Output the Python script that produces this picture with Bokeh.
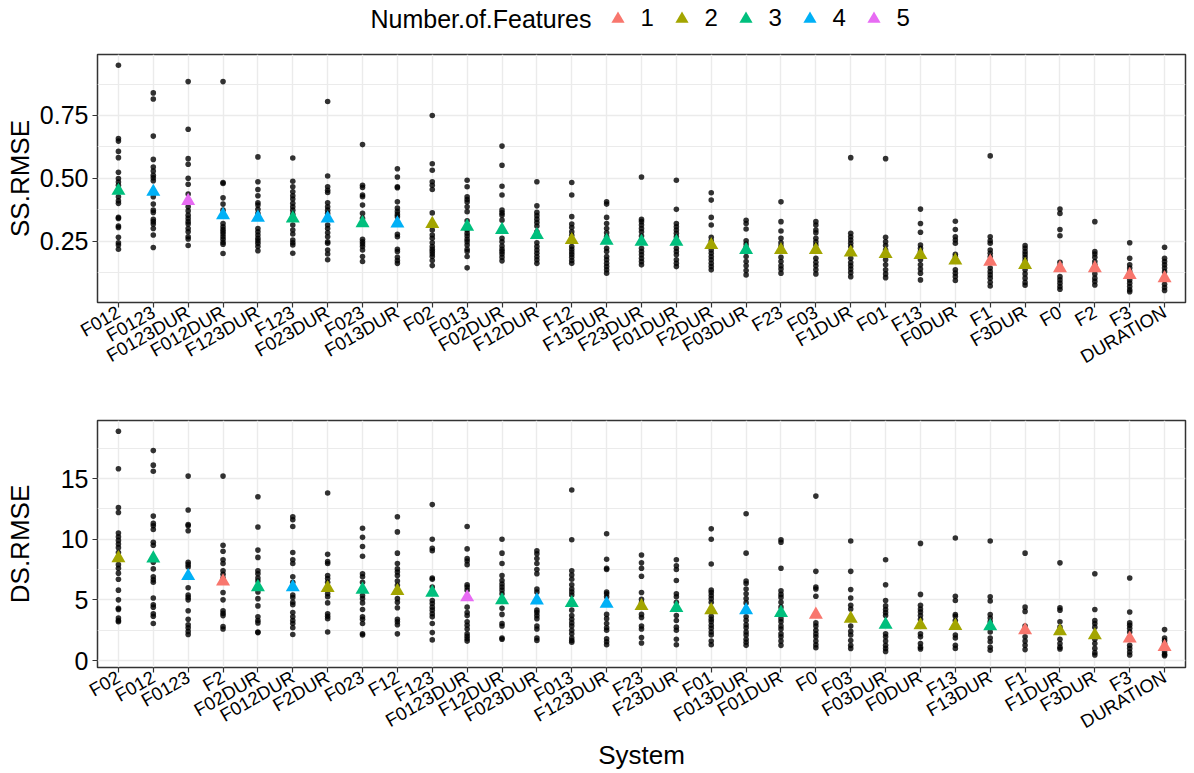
import math
from bokeh.plotting import figure
from bokeh.models import (ColumnDataSource, FactorRange, Range1d, FixedTicker, CDSView,
                          GroupFilter, NumeralTickFormatter, Legend, LegendItem, Label)
from bokeh.layouts import column
from bokeh.embed import file_html
from bokeh.resources import INLINE

# ---------------------------------------------------------------- top panel: SS.RMSE
ss_systems = ["F012", "F0123", "F0123DUR", "F012DUR", "F123DUR", "F123", "F023DUR", "F023",
              "F013DUR", "F02", "F013", "F02DUR", "F12DUR", "F12", "F13DUR", "F23DUR",
              "F01DUR", "F2DUR", "F03DUR", "F23", "F03", "F1DUR", "F01", "F13", "F0DUR",
              "F1", "F3DUR", "F0", "F2", "F3", "DURATION"]
ss_features = [3, 4, 5, 4, 4, 3, 4, 3, 4, 2, 3, 3, 3, 2, 3, 3, 3, 2, 3, 2, 2, 2, 2, 2, 2,
               1, 2, 1, 1, 1, 1]
ss_means = [0.450, 0.446, 0.410, 0.353, 0.343, 0.340, 0.340, 0.321, 0.320, 0.318, 0.307,
            0.294, 0.274, 0.254, 0.251, 0.247, 0.247, 0.234, 0.214, 0.214, 0.214, 0.204,
            0.198, 0.194, 0.172, 0.168, 0.155, 0.142, 0.142, 0.115, 0.102]

ss_F012 = [0.950, 0.658, 0.648, 0.607, 0.582, 0.524, 0.499, 0.485, 0.472, 0.426, 0.410, 0.400,
           0.344, 0.340, 0.310, 0.304, 0.265, 0.243, 0.234, 0.217]
ss_F0123 = [0.840, 0.816, 0.668, 0.575, 0.545, 0.529, 0.512, 0.502, 0.490, 0.426, 0.397, 0.373,
            0.364, 0.336, 0.327, 0.318, 0.300, 0.274, 0.224]
ss_F0123DUR = [0.885, 0.695, 0.578, 0.556, 0.500, 0.476, 0.437, 0.386, 0.370, 0.353, 0.340,
               0.327, 0.318, 0.300, 0.287, 0.267, 0.258, 0.232]
ss_F012DUR = [0.885, 0.483, 0.479, 0.422, 0.397, 0.373, 0.320, 0.307, 0.296, 0.287, 0.278,
              0.267, 0.257, 0.245, 0.237, 0.200]
ss_F123DUR = [0.585, 0.486, 0.455, 0.430, 0.402, 0.393, 0.376, 0.360, 0.300, 0.287, 0.274,
              0.261, 0.251, 0.241, 0.228, 0.211]
ss_F123 = [0.581, 0.488, 0.466, 0.446, 0.430, 0.417, 0.400, 0.386, 0.373, 0.357, 0.314, 0.294,
           0.278, 0.254, 0.243, 0.234, 0.201]
ss_F023DUR = [0.806, 0.509, 0.466, 0.452, 0.443, 0.402, 0.386, 0.373, 0.360, 0.314, 0.300,
              0.283, 0.267, 0.247, 0.241, 0.214, 0.198, 0.175]
ss_F023 = [0.634, 0.472, 0.463, 0.433, 0.426, 0.393, 0.360, 0.340, 0.257, 0.247, 0.238, 0.228,
           0.214, 0.188, 0.168]
ss_F013DUR = [0.538, 0.505, 0.466, 0.462, 0.406, 0.381, 0.368, 0.356, 0.347, 0.277, 0.267,
              0.217, 0.208, 0.185, 0.172, 0.161]
ss_F02 = [0.750, 0.558, 0.532, 0.486, 0.472, 0.455, 0.362, 0.294, 0.274, 0.261, 0.243, 0.228,
          0.217, 0.208, 0.198, 0.188, 0.172, 0.152]
ss_F013 = [0.492, 0.466, 0.426, 0.415, 0.405, 0.386, 0.367, 0.331, 0.294, 0.281, 0.270, 0.257,
           0.247, 0.234, 0.217, 0.208, 0.188, 0.143]
ss_F02DUR = [0.628, 0.552, 0.468, 0.433, 0.373, 0.362, 0.353, 0.333, 0.261, 0.247, 0.230,
             0.217, 0.208, 0.198, 0.185, 0.171]
ss_F12DUR = [0.486, 0.390, 0.364, 0.351, 0.337, 0.324, 0.310, 0.287, 0.243, 0.228, 0.214,
             0.201, 0.188, 0.175, 0.161]
ss_F12 = [0.483, 0.433, 0.347, 0.318, 0.304, 0.287, 0.273, 0.228, 0.217, 0.206, 0.196, 0.185,
          0.172, 0.161]
ss_F13DUR = [0.406, 0.397, 0.344, 0.320, 0.300, 0.283, 0.267, 0.221, 0.208, 0.188, 0.175,
             0.161, 0.148, 0.135, 0.122]
ss_F23DUR = [0.505, 0.336, 0.327, 0.314, 0.300, 0.287, 0.270, 0.221, 0.208, 0.195, 0.181,
             0.168, 0.155]
ss_F01DUR = [0.492, 0.376, 0.320, 0.307, 0.294, 0.281, 0.267, 0.221, 0.208, 0.195, 0.175,
             0.161, 0.148]
ss_F2DUR = [0.442, 0.413, 0.344, 0.314, 0.265, 0.251, 0.214, 0.201, 0.188, 0.175, 0.161,
            0.148, 0.135]
ss_F03DUR = [0.333, 0.320, 0.298, 0.251, 0.238, 0.225, 0.188, 0.168, 0.151, 0.132, 0.115]
ss_F23 = [0.406, 0.327, 0.290, 0.261, 0.243, 0.230, 0.185, 0.168, 0.151, 0.138, 0.122]
ss_F03 = [0.327, 0.314, 0.294, 0.283, 0.261, 0.247, 0.234, 0.181, 0.165, 0.151, 0.135, 0.119]
ss_F1DUR = [0.582, 0.281, 0.267, 0.254, 0.241, 0.228, 0.181, 0.164, 0.151, 0.138, 0.124, 0.108]
ss_F01 = [0.578, 0.265, 0.247, 0.232, 0.214, 0.175, 0.155, 0.135, 0.119, 0.104]
ss_F13 = [0.377, 0.320, 0.285, 0.234, 0.221, 0.208, 0.175, 0.155, 0.138, 0.122, 0.095]
ss_F0DUR = [0.329, 0.296, 0.267, 0.254, 0.241, 0.197, 0.188, 0.135, 0.122, 0.108, 0.093]
ss_F1 = [0.589, 0.267, 0.251, 0.241, 0.214, 0.201, 0.188, 0.142, 0.128, 0.115, 0.102, 0.086,
         0.071]
ss_F3DUR = [0.232, 0.221, 0.208, 0.197, 0.185, 0.172, 0.135, 0.119, 0.102, 0.085, 0.074]
ss_F0 = [0.377, 0.360, 0.296, 0.271, 0.165, 0.151, 0.108, 0.095, 0.082, 0.069, 0.058]
ss_F2 = [0.327, 0.208, 0.198, 0.185, 0.168, 0.155, 0.119, 0.102, 0.089, 0.075]
ss_F3 = [0.243, 0.181, 0.155, 0.142, 0.128, 0.095, 0.082, 0.069, 0.056, 0.048]
ss_DURATION = [0.225, 0.181, 0.168, 0.155, 0.142, 0.128, 0.095, 0.078, 0.065, 0.053]

ss_points = [ss_F012, ss_F0123, ss_F0123DUR, ss_F012DUR, ss_F123DUR, ss_F123, ss_F023DUR,
             ss_F023, ss_F013DUR, ss_F02, ss_F013, ss_F02DUR, ss_F12DUR, ss_F12, ss_F13DUR,
             ss_F23DUR, ss_F01DUR, ss_F2DUR, ss_F03DUR, ss_F23, ss_F03, ss_F1DUR, ss_F01,
             ss_F13, ss_F0DUR, ss_F1, ss_F3DUR, ss_F0, ss_F2, ss_F3, ss_DURATION]

# ---------------------------------------------------------------- bottom panel: DS.RMSE
ds_systems = ["F02", "F012", "F0123", "F2", "F02DUR", "F012DUR", "F2DUR", "F023", "F12",
              "F123", "F0123DUR", "F12DUR", "F023DUR", "F013", "F123DUR", "F23", "F23DUR",
              "F01", "F013DUR", "F01DUR", "F0", "F03", "F03DUR", "F0DUR", "F13", "F13DUR",
              "F1", "F1DUR", "F3DUR", "F3", "DURATION"]
ds_features = [2, 3, 4, 1, 3, 4, 2, 3, 2, 3, 5, 3, 4, 3, 4, 2, 3, 2, 4, 3, 1, 2, 3, 2, 2, 3,
               1, 2, 2, 1, 1]
ds_means = [8.44, 8.42, 6.96, 6.52, 6.05, 6.04, 5.97, 5.84, 5.73, 5.59, 5.21, 4.97, 4.96, 4.74,
            4.68, 4.49, 4.33, 4.15, 4.14, 3.92, 3.78, 3.45, 2.96, 2.90, 2.85, 2.82, 2.49, 2.41,
            2.08, 1.81, 1.12]

ds_F02 = [18.9, 15.8, 12.6, 12.2, 10.5, 10.2, 9.9, 9.6, 9.3, 8.9, 7.9, 7.6, 7.2, 6.7, 5.8, 5.0,
          4.3, 4.2, 3.5, 3.3, 3.2]
ds_F012 = [17.3, 16.1, 15.6, 11.9, 11.3, 11.1, 10.8, 9.75, 9.5, 8.1, 7.55, 6.9, 6.65, 6.45,
           5.15, 4.6, 4.4, 3.85, 3.65, 3.05]
ds_F0123 = [15.2, 12.4, 11.2, 11.1, 10.7, 8.1, 7.9, 7.7, 6.0, 5.4, 5.2, 5.0, 4.1, 3.4, 2.95,
            2.7, 2.4, 2.15]
ds_F2 = [15.2, 9.5, 9.0, 8.3, 8.0, 7.4, 7.1, 6.8, 5.6, 5.0, 4.1, 3.9, 3.7, 2.8, 2.6]
ds_F02DUR = [13.5, 11.0, 9.1, 8.5, 7.4, 7.15, 6.8, 6.55, 5.65, 5.1, 4.5, 3.6, 3.3, 3.1, 2.35,
             2.3]
ds_F012DUR = [11.85, 11.6, 11.05, 8.9, 8.3, 8.0, 6.9, 6.45, 5.4, 5.2, 4.8, 4.6, 3.95, 3.6, 3.3,
              3.05, 2.7, 2.15]
ds_F2DUR = [13.8, 8.75, 8.15, 8.0, 7.0, 6.75, 6.45, 5.5, 5.25, 4.75, 3.85, 3.65, 3.45, 2.35]
ds_F023 = [10.9, 10.15, 9.4, 8.6, 7.15, 6.9, 6.45, 5.35, 5.1, 4.75, 4.2, 3.6, 3.4, 3.05, 2.2,
           2.1]
ds_F12 = [11.85, 10.6, 8.85, 8.0, 7.55, 7.3, 7.0, 6.55, 6.2, 5.1, 4.8, 4.35, 3.4, 3.2, 2.95,
          2.2]
ds_F123 = [12.85, 10.0, 9.25, 9.05, 6.8, 6.7, 6.05, 4.95, 4.7, 4.4, 4.15, 3.85, 3.6, 3.05, 2.3,
           1.7]
ds_F0123DUR = [11.05, 9.2, 8.4, 8.2, 7.9, 6.25, 6.05, 5.8, 4.4, 3.95, 3.7, 3.2, 2.9, 2.6, 2.2,
               2.0, 1.8, 1.6]
ds_F12DUR = [10.0, 8.85, 8.0, 7.0, 6.6, 6.3, 6.05, 5.8, 5.5, 4.3, 3.8, 3.05, 2.85, 1.85, 1.75]
ds_F023DUR = [9.05, 8.8, 8.4, 8.0, 7.5, 7.15, 5.9, 5.65, 4.15, 3.95, 3.7, 3.45, 2.85, 2.6, 1.85,
              1.65]
ds_F013 = [14.05, 9.95, 7.4, 7.05, 6.7, 6.25, 5.9, 5.65, 5.4, 4.15, 3.7, 3.4, 3.1, 2.85, 2.5,
           2.2, 1.85, 1.65, 1.5]
ds_F123DUR = [10.45, 8.35, 7.6, 7.5, 5.65, 5.5, 5.25, 3.8, 3.45, 3.05, 2.7, 2.5, 1.8, 1.55, 1.3]
ds_F23 = [8.7, 8.05, 7.6, 6.95, 5.6, 5.05, 4.75, 3.8, 3.55, 2.85, 2.6, 1.9, 1.45]
ds_F23DUR = [8.3, 7.8, 7.5, 6.6, 5.5, 5.25, 4.8, 3.7, 3.3, 2.75, 2.5, 1.75, 1.3]
ds_F01 = [10.85, 10.0, 7.95, 5.8, 5.6, 5.35, 5.1, 4.8, 3.65, 3.4, 3.2, 2.9, 2.65, 2.35, 2.1,
          1.6, 1.3]
ds_F013DUR = [12.1, 8.85, 6.55, 6.35, 5.9, 5.5, 5.1, 4.75, 3.6, 3.3, 2.95, 2.7, 2.35, 2.1, 1.75,
              1.5, 1.25]
ds_F01DUR = [9.95, 9.75, 7.6, 5.75, 5.45, 5.2, 4.8, 4.4, 3.45, 3.2, 2.85, 2.6, 2.2, 1.95, 1.6,
             1.25]
ds_F0 = [13.55, 7.35, 6.05, 5.9, 5.3, 3.1, 2.85, 2.5, 2.2, 1.95, 1.6, 1.3, 1.05]
ds_F03 = [9.85, 7.35, 5.85, 5.15, 4.55, 4.25, 2.85, 2.4, 2.1, 1.65, 1.25, 1.0]
ds_F03DUR = [8.3, 6.25, 4.95, 4.5, 4.2, 3.95, 3.7, 2.2, 1.95, 1.6, 1.25, 1.0, 0.75]
ds_F0DUR = [9.65, 5.45, 4.55, 4.25, 4.0, 3.7, 3.4, 2.2, 1.95, 1.4, 1.1, 0.95]
ds_F13 = [10.1, 5.3, 4.95, 3.8, 3.65, 3.3, 2.1, 1.85, 1.25, 1.0]
ds_F13DUR = [9.85, 5.25, 4.9, 3.8, 3.5, 3.2, 2.35, 1.85, 1.55, 1.1, 0.85]
ds_F1 = [8.85, 4.4, 4.05, 2.85, 2.6, 1.95, 1.6, 1.25, 0.9]
ds_F1DUR = [8.05, 4.35, 4.15, 3.2, 2.75, 1.75, 1.4, 1.1, 0.95]
ds_F3DUR = [7.15, 4.2, 3.3, 3.05, 2.75, 1.75, 1.4, 1.0, 0.65, 0.45]
ds_F3 = [6.8, 4.0, 3.1, 2.9, 2.65, 2.35, 1.25, 1.0, 0.7, 0.45]
ds_DURATION = [2.55, 1.85, 1.65, 1.4, 1.0, 0.7, 0.5, 0.4]

ds_points = [ds_F02, ds_F012, ds_F0123, ds_F2, ds_F02DUR, ds_F012DUR, ds_F2DUR, ds_F023, ds_F12,
             ds_F123, ds_F0123DUR, ds_F12DUR, ds_F023DUR, ds_F013, ds_F123DUR, ds_F23,
             ds_F23DUR, ds_F01, ds_F013DUR, ds_F01DUR, ds_F0, ds_F03, ds_F03DUR, ds_F0DUR,
             ds_F13, ds_F13DUR, ds_F1, ds_F1DUR, ds_F3DUR, ds_F3, ds_DURATION]

feature_levels = ["1", "2", "3", "4", "5"]
legend_title = "Number.of.Features"

# ---------------------------------------------------------------- styling
FONT = "Liberation Sans"
PALETTE = ["#F8766D", "#A3A500", "#00BF7D", "#00B0F6", "#E76BF3"]
W = 1194
BORDER_LEFT = 97
BORDER_RIGHT = 9
GRID = "#EBEBEB"
DARK = "#333333"
LEG_H = 40


def mean_renderers(p, systems, means, features):
    msrc = ColumnDataSource(dict(system=systems, mean=means,
                                 nfeat=[str(f) for f in features]))
    rends = {}
    for lvl, col in zip(feature_levels, PALETTE):
        view = CDSView(filter=GroupFilter(column_name="nfeat", group=lvl))
        rends[lvl] = p.scatter(x="system", y="mean", source=msrc, view=view,
                               marker="triangle", size=14, fill_color=col, line_color=None)
    return rends


def make_panel(systems, points, means, features, y_lo, y_hi, ticks, minor, ylabel,
               height, b_top, b_bottom, ylabel_standoff, fmt=None, xlabel=None):
    n = len(systems)
    p = figure(width=W, height=height, output_backend="svg", toolbar_location=None,
               x_range=FactorRange(factors=systems, range_padding=0.2 / n,
                                   range_padding_units="percent"),
               y_range=Range1d(y_lo, y_hi),
               min_border_left=BORDER_LEFT, min_border_right=BORDER_RIGHT,
               min_border_top=b_top, min_border_bottom=b_bottom)
    p.background_fill_color = "white"
    p.border_fill_color = "white"
    p.outline_line_color = DARK
    p.outline_line_width = 1.5

    xs, ys = [], []
    for s, vals in zip(systems, points):
        xs.extend([s] * len(vals))
        ys.extend(vals)
    pts = ColumnDataSource(dict(system=xs, value=ys))
    p.scatter(x="system", y="value", source=pts, size=5.6, fill_color="black",
              fill_alpha=0.8, line_color=None)

    mean_renderers(p, systems, means, features)

    p.yaxis.ticker = FixedTicker(ticks=ticks, minor_ticks=minor)
    if fmt is not None:
        p.yaxis.formatter = NumeralTickFormatter(format=fmt)

    p.xgrid.grid_line_color = GRID
    p.xgrid.grid_line_width = 1.4
    p.ygrid.grid_line_color = GRID
    p.ygrid.grid_line_width = 1.4
    p.ygrid.minor_grid_line_color = GRID
    p.ygrid.minor_grid_line_width = 1.0

    for ax in (p.xaxis[0], p.yaxis[0]):
        ax.axis_line_color = None
        ax.major_tick_line_color = DARK
        ax.major_tick_line_width = 1.2
        ax.major_tick_in = 0
        ax.major_tick_out = 5
        ax.minor_tick_line_color = None
        ax.major_label_text_font = FONT
        ax.major_label_text_color = "black"
        ax.axis_label_text_font = FONT
        ax.axis_label_text_font_style = "normal"
        ax.axis_label_text_color = "black"
        ax.axis_label_text_font_size = "26px"

    p.yaxis.major_label_text_font_size = "25px"
    p.yaxis.major_label_standoff = 4
    p.yaxis.axis_label = ylabel
    p.yaxis.axis_label_standoff = ylabel_standoff

    p.xaxis.major_label_text_font_size = "18.5px"
    p.xaxis.major_label_orientation = math.pi / 6
    p.xaxis.major_label_standoff = 3
    if xlabel:
        p.xaxis.axis_label = xlabel
        p.xaxis.axis_label_standoff = -4
    return p


# page pixels: legend strip 0..40, top panel frame 54..302, bottom panel frame 420..667
p1 = make_panel(ss_systems, ss_points, ss_means, ss_features, 0.005, 0.993,
                [0.25, 0.50, 0.75], [0.125, 0.375, 0.625, 0.875], "SS.RMSE",
                height=370, b_top=14, b_bottom=108, ylabel_standoff=2, fmt="0.00")
p2 = make_panel(ds_systems, ds_points, ds_means, ds_features, -0.575, 19.78,
                [0, 5, 10, 15], [2.5, 7.5, 12.5, 17.5], "DS.RMSE",
                height=363, b_top=10, b_bottom=106, ylabel_standoff=23, xlabel="System")

# ---------------------------------------------------------------- legend strip
# same categorical scale as the top panel; its y window holds no means, so only the
# legend keys of these renderers are visible.  The column aligns its frame with the
# panels' frames (left edge at x = 97), so positions below are frame relative.
pl = figure(width=W, height=LEG_H, output_backend="svg", toolbar_location=None,
            x_range=FactorRange(factors=ss_systems), y_range=Range1d(2, 3),
            x_axis_location=None, y_axis_location=None,
            min_border_left=0, min_border_right=0, min_border_top=0, min_border_bottom=0)
pl.outline_line_color = None
pl.background_fill_color = "white"
pl.border_fill_color = "white"
pl.grid.visible = False
leg_r = mean_renderers(pl, ss_systems, ss_means, ss_features)

legend = Legend(items=[LegendItem(label=lvl, renderers=[leg_r[lvl]]) for lvl in feature_levels],
                orientation="horizontal",
                location=(617 - 16.5 - BORDER_LEFT, LEG_H - 18.2 - 16.5),
                glyph_width=33, glyph_height=33, label_standoff=7, spacing=4,
                padding=0, margin=0, border_line_color=None, background_fill_alpha=0,
                label_text_font=FONT, label_text_font_size="24px",
                label_text_color="black", label_text_baseline="middle")
pl.add_layout(legend)
pl.add_layout(Label(x=370 - BORDER_LEFT, y=LEG_H - 18.3, x_units="screen", y_units="screen",
                    text=legend_title, text_font=FONT, text_font_size="25px",
                    text_color="black", text_align="left", text_baseline="middle"))

layout = column(pl, p1, p2, spacing=0)
open("out.html", "w").write(file_html(layout, INLINE))
